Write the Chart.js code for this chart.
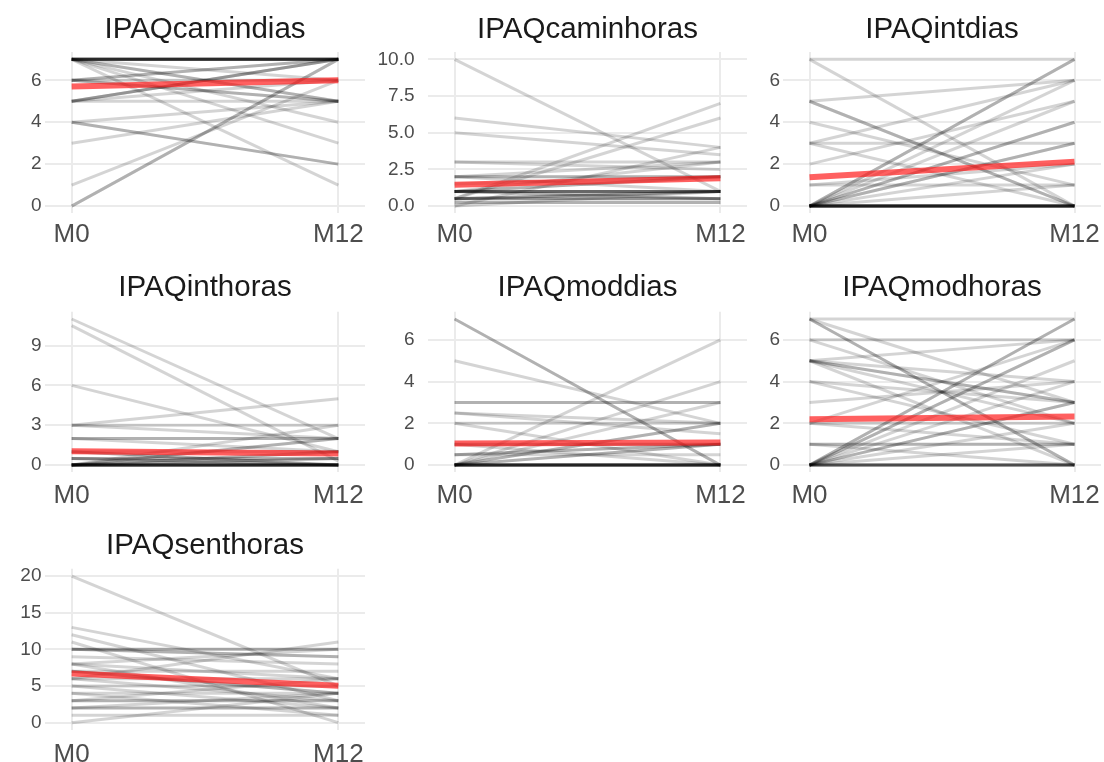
<!DOCTYPE html>
<html>
<head>
<meta charset="utf-8">
<script src="https://cdn.jsdelivr.net/npm/chart.js@4.4.1/dist/chart.umd.min.js"></script>
<style>
html, body { margin: 0; padding: 0; background: #ffffff; width: 1104px; height: 762px; overflow: hidden; position: relative; }
canvas { position: absolute; }
</style>
</head>
<body>
<script>
// ---------- data ----------
const timepoints = ['M0', 'M12'];

const camindiasM0  = [7,7,7,7,7,7,7,7,7,7, 6,6, 5,5,5, 0,0, 1, 3, 4,4, 4, 7, 7, 7, 7,7, 7, 6,6, 5, 6, 5];
const camindiasM12 = [7,7,7,7,7,7,7,7,7,7, 7,7, 7,7,7, 7,7, 6, 5, 2,2, 5, 1, 3, 4, 5,5, 6, 5,5, 6, 6, 5];
const camindiasMean = [5.7, 6.0];
const camindiasTicks = [0, 2, 4, 6];
const camindiasTickLabels = ['0', '2', '4', '6'];

const caminhorasM0  = [10, 6, 5, 3, 3, 2, 2, 2, 2, 1.5, 1,1,1,1,1, 1,1, 1, 1,1, 0.5, 0.5, 0.5,0.5,0.5, 0.5,0.5,0.5, 0.25,0.25, 0, 0];
const caminhorasM12 = [1, 4, 3.5, 2.5, 3, 2, 2, 3, 1, 2, 1,1,1,1,1, 2,2, 3, 0.5,0.5, 7, 6, 1,1,1, 0.5,0.5,0.5, 0.25,0.25, 4, 1];
const caminhorasMean = [1.45, 1.9];
const caminhorasTicks = [0, 2.5, 5, 7.5, 10];
const caminhorasTickLabels = ['0.0', '2.5', '5.0', '7.5', '10.0'];

const intdiasM0  = [0,0,0,0,0,0,0,0,0,0,0, 7, 7, 5,5, 5, 4, 3, 3, 2, 3, 1, 1, 0,0, 0, 0, 0,0, 0,0, 0, 0];
const intdiasM12 = [0,0,0,0,0,0,0,0,0,0,0, 7, 0, 0,0, 6, 1, 3, 0, 5, 6, 1, 2, 7,7, 6, 5, 4,4, 3,3, 2, 1];
const intdiasMean = [1.38, 2.12];
const intdiasTicks = [0, 2, 4, 6];
const intdiasTickLabels = ['0', '2', '4', '6'];

const inthorasM0  = [11, 10.5, 6, 3, 3, 3, 2,2, 2, 1, 0, 0,0, 0,0, 0,0,0,0,0,0,0,0,0,0, 0.5,0.5, 1,1, 0.5,0.5, 0,0];
const inthorasM12 = [2, 0.3, 1, 5, 2, 3, 2,2, 1, 1, 3, 2,2, 1,1, 0,0,0,0,0,0,0,0,0,0, 0.5,0.5, 0,0, 0,0, 0.5,0.5];
const inthorasMean = [1.04, 0.87];
const inthorasTicks = [0, 3, 6, 9];
const inthorasTickLabels = ['0', '3', '6', '9'];

const moddiasM0  = [7,7, 5, 3,3, 2.5, 2.5, 2, 2, 0, 0, 0,0, 0,0, 0,0,0,0,0,0,0,0,0,0, 0.5,0.5, 1,1, 1, 0.5, 0];
const moddiasM12 = [0,0, 2, 3,3, 2, 1.5, 0, 2, 6, 4, 2,2, 1,1, 0,0,0,0,0,0,0,0,0,0, 1,1, 1,1, 0, 0.5, 3];
const moddiasMean = [1.03, 1.08];
const moddiasTicks = [0, 2, 4, 6];
const moddiasTickLabels = ['0', '2', '4', '6'];

const modhorasM0  = [7, 7,7, 7, 6, 6, 5, 5, 5,5, 5, 5, 4, 4, 3, 2, 2, 2, 1, 1,1, 0,0, 0,0, 0, 0, 0,0, 0, 0, 0,0,0,0,0,0];
const modhorasM12 = [7, 0,0, 3, 6, 2, 0, 4, 3,3, 2, 6, 3, 1, 4, 6, 2, 1, 0, 1,1, 7,7, 6,6, 5, 4, 3,3, 2, 1, 0,0,0,0,0,0];
const modhorasMean = [2.2, 2.33];
const modhorasTicks = [0, 2, 4, 6];
const modhorasTickLabels = ['0', '2', '4', '6'];

const senthorasM0  = [20, 13, 12, 11, 10,10, 10,10, 9, 8, 8, 8, 7, 7,7, 6, 6, 6, 5, 5, 4, 4, 3,3, 3, 2,2, 2, 1, 0];
const senthorasM12 = [5, 6, 3, 0, 10,10, 9,9, 8, 10, 6, 2, 7, 4,4, 11, 3, 6, 5, 2, 4, 1, 3,3, 6, 2,2, 4, 1, 4];
const senthorasMean = [6.7, 5.05];
const senthorasTicks = [0, 5, 10, 15, 20];
const senthorasTickLabels = ['0', '5', '10', '15', '20'];

const panelNames = ['IPAQcamindias', 'IPAQcaminhoras', 'IPAQintdias', 'IPAQinthoras', 'IPAQmoddias', 'IPAQmodhoras', 'IPAQsenthoras'];

const panels = [
  { m0: camindiasM0,  m12: camindiasM12,  mean: camindiasMean,  ticks: camindiasTicks,  labels: camindiasTickLabels },
  { m0: caminhorasM0, m12: caminhorasM12, mean: caminhorasMean, ticks: caminhorasTicks, labels: caminhorasTickLabels },
  { m0: intdiasM0,    m12: intdiasM12,    mean: intdiasMean,    ticks: intdiasTicks,    labels: intdiasTickLabels },
  { m0: inthorasM0,   m12: inthorasM12,   mean: inthorasMean,   ticks: inthorasTicks,   labels: inthorasTickLabels },
  { m0: moddiasM0,    m12: moddiasM12,    mean: moddiasMean,    ticks: moddiasTicks,    labels: moddiasTickLabels },
  { m0: modhorasM0,   m12: modhorasM12,   mean: modhorasMean,   ticks: modhorasTicks,   labels: modhorasTickLabels },
  { m0: senthorasM0,  m12: senthorasM12,  mean: senthorasMean,  ticks: senthorasTicks,  labels: senthorasTickLabels }
];

// ---------- layout (facet grid geometry) ----------
const canvasLeft   = [0, 372, 748];
const canvasRight  = [370, 752, 1104];
const plotLeft     = [45, 428, 783];
const plotRight    = [365, 747, 1101];
const labelRight   = [41.5, 414.5, 780];
const rowTitleMid  = [30, 287.5, 546];
const rowPlotTop   = [52, 311.7, 568.7];
const rowPlotBottom= [213.4, 472.4, 730];
const rowXLabelMid = [235.3, 495.8, 754.7];

const FONT = "'Liberation Sans', Arial, Helvetica, sans-serif";
const TITLE_SIZE = 29.5;
const XLAB_SIZE = 26;
const YLAB_SIZE = 19;
const XEXP = 0.1;

Chart.defaults.font.family = FONT;

function makePanel(p, idx) {
  const col = idx % 3, row = Math.floor(idx / 3);
  const cLeft = canvasLeft[col], cRight = canvasRight[col];
  const cTop = Math.floor(rowTitleMid[row] - TITLE_SIZE / 2);
  const cBottom = Math.ceil(rowXLabelMid[row] + XLAB_SIZE);
  const w = cRight - cLeft, h = cBottom - cTop;

  const canvas = document.createElement('canvas');
  canvas.width = w; canvas.height = h;
  canvas.style.left = cLeft + 'px';
  canvas.style.top = cTop + 'px';
  canvas.style.width = w + 'px';
  canvas.style.height = h + 'px';
  document.body.appendChild(canvas);

  const titlePadTop = rowTitleMid[row] - TITLE_SIZE / 2 - cTop;
  const titlePadBottom = rowPlotTop[row] - (rowTitleMid[row] + TITLE_SIZE / 2);
  const yAxisWidth = plotLeft[col] - cLeft;
  const xAxisHeight = cBottom - rowPlotBottom[row];
  const xTickPad = rowXLabelMid[row] - rowPlotBottom[row] - XLAB_SIZE / 2;
  const yTickPad = plotLeft[col] - labelRight[col];

  const dataMax = Math.max(...p.m0, ...p.m12);
  const yMin = -0.05 * dataMax, yMax = dataMax * 1.05;

  const datasets = [];
  datasets.push({
    data: [{ x: 0, y: p.mean[0] }, { x: 1, y: p.mean[1] }],
    borderColor: 'rgba(255,20,20,0.68)',
    borderWidth: 6,
    order: 0
  });
  for (let i = 0; i < p.m0.length; i++) {
    datasets.push({
      data: [{ x: 0, y: p.m0[i] }, { x: 1, y: p.m12[i] }],
      borderColor: 'rgba(0,0,0,0.17)',
      borderWidth: 3,
      order: 1
    });
  }

  new Chart(canvas, {
    type: 'line',
    data: { datasets },
    options: {
      responsive: false,
      animation: false,
      devicePixelRatio: 1,
      events: [],
      elements: { point: { radius: 0 }, line: { tension: 0, borderCapStyle: 'butt' } },
      layout: { padding: { left: 0, right: cRight - plotRight[col], top: 0, bottom: 0 } },
      plugins: {
        legend: { display: false },
        tooltip: { enabled: false },
        title: {
          display: true,
          text: panelNames[idx],
          color: '#1a1a1a',
          fullSize: false,
          font: { family: FONT, size: TITLE_SIZE, weight: 'normal', lineHeight: 1 },
          padding: { top: titlePadTop, bottom: titlePadBottom }
        }
      },
      scales: {
        x: {
          type: 'linear',
          min: -XEXP, max: 1 + XEXP,
          afterBuildTicks: s => { s.ticks = [{ value: 0 }, { value: 1 }]; },
          afterFit: s => { s.height = xAxisHeight; s.paddingLeft = 0; s.paddingRight = 0; },
          ticks: {
            autoSkip: false, maxRotation: 0, minRotation: 0,
            padding: xTickPad,
            color: '#4d4d4d',
            font: { family: FONT, size: XLAB_SIZE, lineHeight: 1 },
            callback: (v, i) => timepoints[i]
          },
          grid: { color: '#ebebeb', lineWidth: 2, drawTicks: false },
          border: { display: false }
        },
        y: {
          type: 'linear',
          min: yMin, max: yMax,
          afterBuildTicks: s => { s.ticks = p.ticks.map(v => ({ value: v })); },
          afterFit: s => { s.width = yAxisWidth; s.paddingTop = 0; s.paddingBottom = 0; },
          ticks: {
            autoSkip: false,
            padding: yTickPad,
            color: '#4d4d4d',
            font: { family: FONT, size: YLAB_SIZE, lineHeight: 1 },
            callback: (v, i) => p.labels[i]
          },
          grid: { color: '#ebebeb', lineWidth: 2, drawTicks: false },
          border: { display: false }
        }
      }
    }
  });
}

panels.forEach(makePanel);
</script>
</body>
</html>
